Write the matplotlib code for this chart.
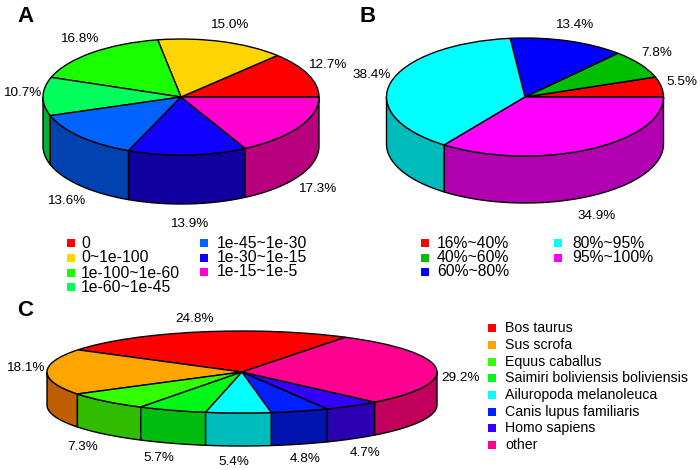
import numpy as np
import matplotlib
matplotlib.use('Agg')
import matplotlib.pyplot as plt

plt.rcParams['font.family'] = ['Liberation Sans', 'DejaVu Sans']

# Data
a_labels = ['0', '0~1e-100', '1e-100~1e-60', '1e-60~1e-45', '1e-45~1e-30', '1e-30~1e-15', '1e-15~1e-5']
a_values = [12.7, 15.0, 16.8, 10.7, 13.6, 13.9, 17.3]
a_colors = ['#FF0000', '#FFD500', '#19FF00', '#00FF5A', '#0062FF', '#1000FF', '#FF00D0']
a_walls = ['#B80000', '#B89800', '#12B800', '#00B038', '#0042B0', '#1000A0', '#B8007F']

b_labels = ['16%~40%', '40%~60%', '60%~80%', '80%~95%', '95%~100%']
b_values = [5.5, 7.8, 13.4, 38.4, 34.9]
b_colors = ['#FF0000', '#00BE00', '#0000FF', '#00FFFF', '#FF00FF']
b_walls = ['#B80000', '#008800', '#0000B8', '#00BBBB', '#B000B0']

c_labels = ['Bos taurus', 'Sus scrofa', 'Equus caballus', 'Saimiri boliviensis boliviensis',
            'Ailuropoda melanoleuca', 'Canis lupus familiaris', 'Homo sapiens', 'other']
c_values = [24.8, 18.1, 7.3, 5.7, 5.4, 4.8, 4.7, 29.2]
c_colors = ['#FF0000', '#FFA500', '#33FF00', '#00F818', '#00FFFF', '#0020FF', '#3300FF', '#FF0090']
c_walls = ['#B80000', '#BD5E00', '#30BD00', '#00BD10', '#00BDBD', '#0015B0', '#2A00B0', '#C0005A']

W, H = 700, 470
fig = plt.figure(figsize=(W / 100, H / 100), dpi=100)

# Overlay in pixel coordinates for labels and legends
over = fig.add_axes([0, 0, 1, 1], zorder=5)
over.set_xlim(0, W)
over.set_ylim(H, 0)
over.axis('off')


def pie3d(values, colors, walls, start, cx, cy, rx, ry, depth):
    # unit circle pie squashed by the axes, with the wall hanging below
    d = depth / ry
    m = 1.1
    left = (cx - m * rx) / W
    bottom = 1 - (cy + (m + d) * ry) / H
    ax = fig.add_axes([left, bottom, 2 * m * rx / W, (2 * m + d) * ry / H])
    ax.pie(values, colors=colors, startangle=start, counterclock=True, radius=1,
           wedgeprops={'edgecolor': 'black', 'linewidth': 1.0, 'zorder': 3})
    ax.set_aspect('auto')
    ax.set_xlim(-m, m)
    ax.set_ylim(-m - d, m)

    # side wall, only the front half is visible
    edges = start + np.cumsum([0] + list(values)) * 3.6
    for i, col in enumerate(walls):
        for k in (0, 1):
            a0 = max(edges[i], 180 + 360 * k)
            a1 = min(edges[i + 1], 360 + 360 * k)
            if a1 <= a0:
                continue
            t = np.radians(np.linspace(a0, a1, 80))
            xs = np.cos(t)
            ys = np.sin(t)
            ax.fill(np.r_[xs, xs[::-1]], np.r_[ys, ys[::-1] - d], facecolor=col,
                    edgecolor='black', linewidth=1.0, zorder=2)
    return ax


def put_labels(items, size=9.7):
    for (txt, x, y) in items:
        over.text(x, y, txt, ha='center', va='center', fontsize=size, color='black')


def legend(labels, colors, sq_x, txt_x, ys, size, msize=6):
    for lab, col, y in zip(labels, colors, ys):
        over.plot([sq_x], [y], marker='s', ms=msize, color=col, mew=0, ls='none')
        over.text(txt_x, y, lab, ha='left', va='center', fontsize=size, color='black')


pie3d(a_values, a_colors, a_walls, 0, 181, 97, 138, 58, 49)
pie3d(b_values, b_colors, b_walls, 0, 525, 97, 138.5, 59, 47)
pie3d(c_values, c_colors, c_walls, 58, 242, 372, 195, 41, 33)

put_labels([('12.7%', 327, 65), ('15.0%', 229, 25), ('16.8%', 79, 39), ('10.7%', 22, 93),
            ('13.6%', 66, 201), ('13.9%', 189, 224), ('17.3%', 317, 189)])
put_labels([('5.5%', 682, 82), ('7.8%', 657, 53), ('13.4%', 574, 25), ('38.4%', 372, 75),
            ('34.9%', 597, 216)])
put_labels([('24.8%', 195, 319), ('18.1%', 25, 368), ('7.3%', 83, 447), ('5.7%', 159, 458),
            ('5.4%', 234, 462), ('4.8%', 305, 459), ('4.7%', 365, 453), ('29.2%', 461, 378)])

legend(a_labels[:4], a_colors[:4], 71, 81, [243, 258, 273, 287], 11.3)
legend(a_labels[4:], a_colors[4:], 204, 217, [243, 258, 272], 11.3)
legend(b_labels[:3], b_colors[:3], 425, 437, [243, 258, 272], 11.3)
legend(b_labels[3:], b_colors[3:], 558, 572, [243, 258], 11.3)
legend(c_labels, c_colors, 492, 505, [328, 345, 362, 378, 395, 412, 428, 445], 10.2)

for letter, x, y in [('A', 25, 17), ('B', 368, 17), ('C', 25, 310)]:
    over.text(x, y, letter, ha='center', va='center', fontsize=16, fontweight='bold')

fig.savefig('out.png', dpi=100)
